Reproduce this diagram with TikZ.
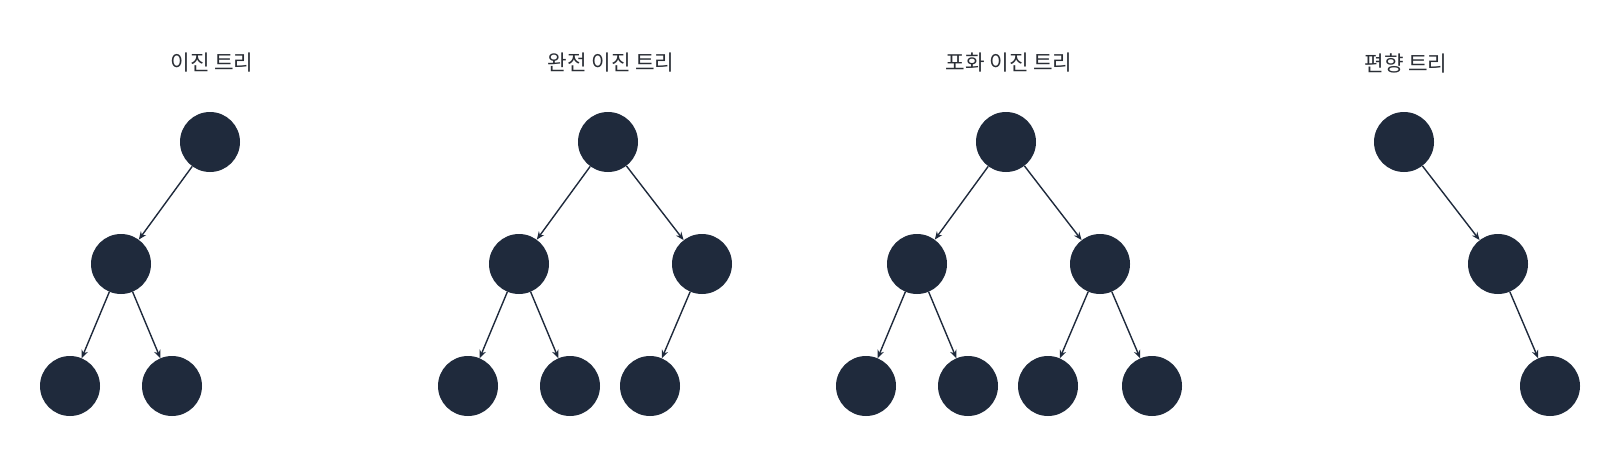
\documentclass[tikz,border=0pt]{standalone}
\usepackage{fontspec}
\newfontfamily\krfont{Noto Sans CJK KR}
\usetikzlibrary{arrows.meta}
\definecolor{nodecol}{HTML}{1F2A3C}
\definecolor{txtcol}{HTML}{2A2E35}
\tikzset{
  tn/.style={circle, fill=nodecol, draw=none, minimum size=60pt, inner sep=0pt},
  edge/.style={draw=nodecol, line width=1.4pt, -{Stealth[length=8pt,width=6.5pt]}, shorten >=0pt},
  ttl/.style={font=\krfont\fontsize{21.3pt}{25pt}\selectfont, text=txtcol, anchor=center}
}
\begin{document}
\begin{tikzpicture}[x=1pt,y=-1pt]
\useasboundingbox (0,0) rectangle (1620,460);
% Tree 1
\node[ttl] (t1) at (212,63) {이진 트리};
\node[tn] (a1) at (210,142) {};
\node[tn] (a2) at (121,264) {};
\node[tn] (a3) at (70,386) {};
\node[tn] (a4) at (172,386) {};
\draw[edge] (a1) -- (a2);
\draw[edge] (a2) -- (a3);
\draw[edge] (a2) -- (a4);
% Tree 2
\node[ttl] (t2) at (611,63) {완전 이진 트리};
\node[tn] (b1) at (608,142) {};
\node[tn] (b2) at (519,264) {};
\node[tn] (b3) at (702,264) {};
\node[tn] (b4) at (468,386) {};
\node[tn] (b5) at (570,386) {};
\node[tn] (b6) at (650,386) {};
\draw[edge] (b1) -- (b2);
\draw[edge] (b1) -- (b3);
\draw[edge] (b2) -- (b4);
\draw[edge] (b2) -- (b5);
\draw[edge] (b3) -- (b6);
% Tree 3
\node[ttl] (t3) at (1009,63) {포화 이진 트리};
\node[tn] (c1) at (1006,142) {};
\node[tn] (c2) at (917,264) {};
\node[tn] (c3) at (1100,264) {};
\node[tn] (c4) at (866,386) {};
\node[tn] (c5) at (968,386) {};
\node[tn] (c6) at (1048,386) {};
\node[tn] (c7) at (1152,386) {};
\draw[edge] (c1) -- (c2);
\draw[edge] (c1) -- (c3);
\draw[edge] (c2) -- (c4);
\draw[edge] (c2) -- (c5);
\draw[edge] (c3) -- (c6);
\draw[edge] (c3) -- (c7);
% Tree 4
\node[ttl] (t4) at (1406,63) {편향 트리};
\node[tn] (d1) at (1404,142) {};
\node[tn] (d2) at (1498,264) {};
\node[tn] (d3) at (1550,386) {};
\draw[edge] (d1) -- (d2);
\draw[edge] (d2) -- (d3);
\end{tikzpicture}
\end{document}
